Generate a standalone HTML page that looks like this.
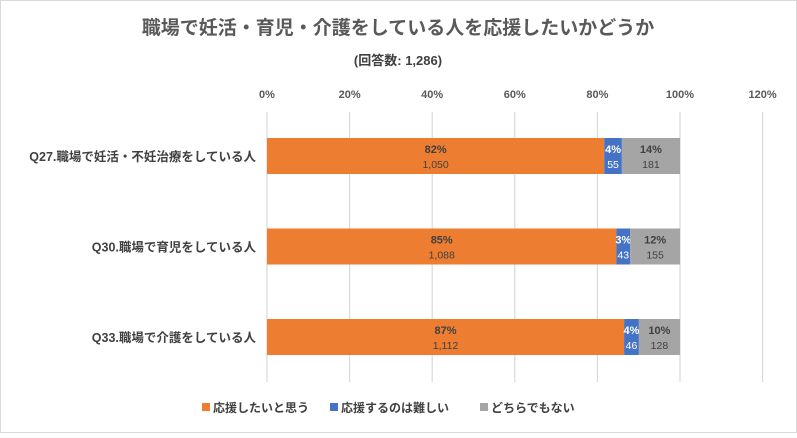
<!DOCTYPE html>
<html><head><meta charset="utf-8"><style>
body{margin:0;background:#fff;font-family:"Liberation Sans","Noto Sans CJK JP",sans-serif;}
svg text{font-family:"Liberation Sans","Noto Sans CJK JP",sans-serif;}
</style></head><body>
<svg id="chart" width="797" height="433">
<rect x="0.5" y="0.5" width="796" height="432" fill="#fff" stroke="#d9d9d9"/>
<text x="398" y="34" text-anchor="middle" font-size="19" font-weight="bold" fill="#595959">職場で妊活・育児・介護をしている人を応援したいかどうか</text>
<text x="398" y="65" text-anchor="middle" font-size="13" font-weight="bold" fill="#404040">(回答数: 1,286)</text>
<g id="grid"></g><g id="bars"></g><g id="legend"></g>
</svg>
<script>
const categories=["Q27.職場で妊活・不妊治療をしている人","Q30.職場で育児をしている人","Q33.職場で介護をしている人"];
const supportCounts=[1050,1088,1112];
const hardCounts=[55,43,46];
const neitherCounts=[181,155,128];
const supportPct=[82,85,87];
const hardPct=[4,3,4];
const neitherPct=[14,12,10];
const tickValues=[0,20,40,60,80,100,120];
const seriesNames=["応援したいと思う","応援するのは難しい","どちらでもない"];
const colors=["#ed7d31","#4472c4","#a5a5a5"];
const ns="http://www.w3.org/2000/svg";
const x0=267,pxPer=4.13;
const xs=v=>x0+v*pxPer;
const rowY=i=>156+i*90.5;
const barH=36;
function mk(tag,attrs,parent,txt){const e=document.createElementNS(ns,tag);for(const k in attrs)e.setAttribute(k,attrs[k]);if(txt!==undefined)e.textContent=txt;parent.appendChild(e);return e;}
const grid=document.getElementById('grid');
tickValues.forEach(t=>{
 const l=mk('line',{x1:xs(t),x2:xs(t),y1:112,y2:382,stroke:'#d9d9d9','stroke-width':1.2},grid);
 
 
 const tx=mk('text',{x:xs(t),y:98,'text-anchor':'middle','font-size':11,'font-weight':'bold',fill:'#595959'},grid,t+'%');
 
 
});
const bars=document.getElementById('bars');
categories.forEach((c,i)=>{
 const cy=rowY(i);
 const lab=mk('text',{x:256,y:cy+5,'text-anchor':'end','font-size':12.5,'font-weight':'bold',fill:'#404040'},bars,c);
 
 
 const counts=[supportCounts[i],hardCounts[i],neitherCounts[i]];
 const pcts=[supportPct[i],hardPct[i],neitherPct[i]];
 const tot=counts[0]+counts[1]+counts[2];
 let acc=0;
 counts.forEach((v,s)=>{
  const share=v/tot*100;
  const xa=xs(acc),xb=xs(acc+share);
  const r=mk('rect',{x:xa,y:cy-barH/2,width:xb-xa,height:barH,fill:colors[s]},bars);
  
  
  const mid=(xa+xb)/2;const col=s===1?'#fff':'#404040';
  const p=mk('text',{x:mid,y:cy-3,'text-anchor':'middle','font-size':11,'font-weight':'bold',fill:col},bars,pcts[s]+'%');
  
  
  const n=mk('text',{x:mid,y:cy+12,'text-anchor':'middle','font-size':10.5,fill:col},bars,v.toLocaleString('en-US'));
  
  
  acc+=share;
 });
});
const leg=document.getElementById('legend');
const lx=[202,330,480];
seriesNames.forEach((s,k)=>{
 const r=mk('rect',{x:lx[k],y:403,width:8,height:8,fill:colors[k]},leg);
 
 
 const t=mk('text',{x:lx[k]+11,y:412,'font-size':12,'font-weight':'bold',fill:'#404040'},leg,s);
 
 
});
</script>
</body></html>
